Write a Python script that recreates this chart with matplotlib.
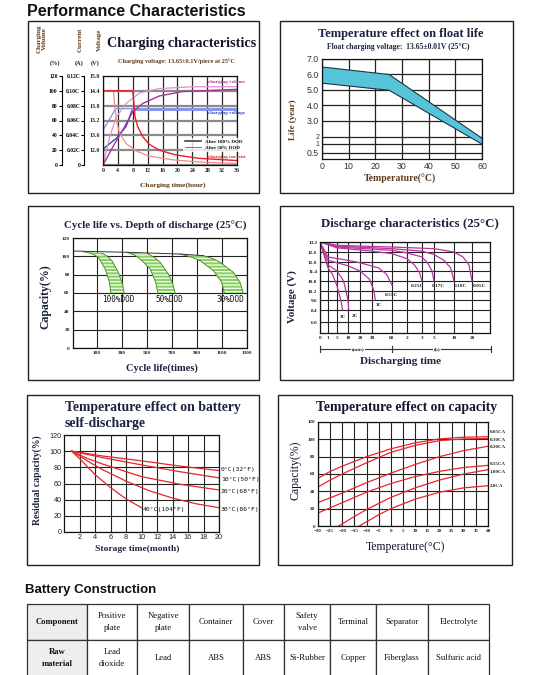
import numpy as np
import matplotlib
matplotlib.use('Agg')
import matplotlib.pyplot as plt
from matplotlib.patches import Rectangle
from matplotlib.lines import Line2D
from matplotlib.ticker import NullLocator

W, H = 540, 675
SERIF = 'Liberation Serif'
SANS = 'Liberation Sans'
MONO = 'DejaVu Sans Mono'
NAVY = '#1c1f3c'
BROWN = '#5e3a18'

# ---------------- data ----------------
# Charging characteristics
chg_hour_ticks = [0, 4, 8, 12, 16, 20, 24, 28, 32, 36]
pct_ticks = [0, 20, 40, 60, 80, 100, 120]
pct_labels = ['0', '20', '40', '60', '80', '100', '120']
current_labels = ['0', '0.02C', '0.04C', '0.06C', '0.08C', '0.10C', '0.12C']
voltage_labels = ['', '12.0', '13.6', '13.2', '13.8', '14.4', '15.0']
cur100_t = [0, 8, 8.3, 8.6, 9.3, 10.7, 12.4, 15.1, 19.6, 25.8, 36]
cur100_v = [100, 100, 83, 65, 52, 38, 28, 20, 13.5, 9, 6]
cur50_t = [0, 2.8, 3.1, 3.6, 4.4, 6.2, 8.9, 12.4, 18.7, 25.8, 36]
cur50_v = [100, 100, 83, 61, 43, 29, 19, 12, 7, 4, 2]
volt100_t = [0, 3.6, 6.2, 8, 36]
volt100_v = [21.6, 36, 52, 76, 76]
volt50_t = [0, 1.8, 3.4, 36]
volt50_v = [47, 62, 76, 76]
vol100_t = [0, 2.7, 5.3, 8, 10.7, 15.1, 21.3, 36]
vol100_v = [0, 25, 47, 72, 83, 93, 99, 102]
vol50_t = [0, 1.8, 3.6, 6.2, 9.8, 15, 24, 36]
vol50_v = [0, 38, 65, 83, 97, 103, 105.5, 105.6]

# Float life
life_temp = [0, 25, 60]
life_high = [6.5, 6.0, 1.8]
life_low = [5.45, 5.0, 1.0]
life_ticks = [0.5, 1, 2, 3, 4, 5, 6, 7]
life_tick_labels = ['0.5', '1', '2', '3.0', '4.0', '5.0', '6.0', '7.0']
float_temp_ticks = [0, 10, 20, 30, 40, 50, 60]

# Cycle life
cyc_ticks = [100, 300, 500, 700, 900, 1100, 1300]
cyc_cap_ticks = [0, 20, 40, 60, 80, 100, 120]
dod_names = ['100%DOD', '50%DOD', '30%DOD']
band_left_x = [[-7, 60, 113, 167, 201, 212],
               [340, 400, 447, 527, 572, 588],
               [767, 850, 927, 1033, 1100, 1120]]
band_left_y = [[105.1, 103, 98.9, 86.2, 71.6, 60],
               [104.4, 101.5, 97.1, 86.2, 71.6, 60],
               [102.5, 99.5, 95.3, 84.4, 71.6, 60]]
band_right_x = [[140, 185, 220, 273, 305, 319],
                [513, 565, 607, 673, 708, 727],
                [953, 1030, 1087, 1193, 1247, 1272]]
band_right_y = [[103.6, 100, 95.3, 82.5, 69.8, 60],
                [102.5, 98.5, 93.5, 80.7, 69.8, 60],
                [100.7, 97.5, 93.5, 82.5, 71.6, 60]]
cyc_top_x = [-95, 340, 767, 953]
cyc_top_y = [105.8, 104.4, 102.5, 100.7]

# Discharge characteristics
dis_time_vals = [0, 1, 5, 10, 20, 30, 60, 120, 180, 300, 600, 1200, 2400]
dis_time_labels = ['0', '1', '5', '10', '20', '30', '60', '2', '3', '5', '10', '20']
dis_volt_vals = [4.8, 6.0, 8.4, 9.6, 10.2, 10.8, 11.4, 12.0, 12.6, 13.2]
dis_volt_labels = ['6.0', '8.4', '9.6', '10.2', '10.8', '11.4', '12.0', '12.6', '13.2']
dis_rates = ['0.05C', '0.10C', '0.17C', '0.25C', '0.55C', '1C', '2C', '3C']
dis_t = [[0, 5, 60, 300, 600, 900, 1100, 1200],
         [0, 5, 60, 180, 300, 450, 550, 600],
         [0, 5, 60, 120, 180, 240, 280, 300],
         [0, 5, 30, 60, 120, 150, 170, 180],
         [0, 1, 10, 20, 40, 52, 60],
         [0, 1, 10, 20, 28, 33, 35],
         [0, 1, 5, 8, 10, 10.5],
         [0, 1, 3, 5, 7, 7.5]]
dis_v = [[13.2, 13.0, 12.9, 12.8, 12.6, 12.3, 11.8, 10.8],
         [13.2, 12.95, 12.8, 12.65, 12.45, 12.1, 11.6, 10.8],
         [13.2, 12.9, 12.7, 12.55, 12.3, 11.9, 11.4, 10.8],
         [13.2, 12.85, 12.65, 12.5, 12.2, 11.8, 11.3, 10.8],
         [13.2, 12.3, 12.1, 11.95, 11.6, 11.2, 10.55],
         [13.2, 12.1, 11.75, 11.4, 10.9, 10.2, 9.6],
         [13.2, 11.8, 11.4, 10.8, 9.6, 8.6],
         [13.2, 11.6, 11.2, 10.5, 9.3, 8.4]]

# Self-discharge
sd_month_ticks = [2, 4, 6, 8, 10, 12, 14, 16, 18, 20]
sd_cap_ticks = [0, 20, 40, 60, 80, 100, 120]
sd_names = ['0°C(32°F)', '10°C(50°F)', '20°C(68°F)', '30°C(86°F)', '40°C(104°F)']
sd_m = [[1, 5, 10, 15, 20],
        [1, 5, 10, 15, 20],
        [1, 3, 5, 10, 15, 20],
        [1, 3, 5, 8, 11, 14, 17, 20],
        [1, 2.5, 4, 6, 8, 10]]
sd_c = [[100, 94, 88, 81.5, 76],
        [100, 92, 83, 74.5, 67],
        [100, 91, 84, 68.5, 59, 52],
        [100, 88, 77, 63, 51, 42, 35, 30],
        [100, 86, 71, 55, 41, 30]]

# Temperature effect on capacity
tc_temp_ticks = [-30, -25, -20, -15, -10, -5, 0, 5, 10, 15, 20, 25, 30, 35, 40]
tc_cap_ticks = [0, 20, 40, 60, 80, 100, 120]
tc_names = ['0.05CA', '0.10CA', '0.20CA', '0.55CA', '1.00CA', '2.0CA']
tc_t = [[-30, -25, -20, -10, 0, 10, 20, 30, 40],
        [-30, -25, -20, -10, 0, 10, 20, 30, 40],
        [-30, -20, -10, 0, 10, 20, 30, 40],
        [-30, -20, -10, 0, 10, 20, 30, 40],
        [-21.5, -15, -10, 0, 10, 20, 30, 40],
        [-13, -5, 0, 10, 20, 30, 40]]
tc_c = [[55, 63, 69, 80, 89, 96, 100.5, 102.5, 103],
        [45, 53, 60, 73, 85, 93, 98.5, 100.5, 101],
        [27, 38, 50, 61, 71, 80, 87, 92],
        [15, 27, 39, 49, 57, 63, 67.5, 70],
        [0, 11, 19, 33, 44, 53, 60, 65],
        [0, 13, 20, 31, 39, 44, 46.5]]

# Battery construction table
table_header = ['Component', 'Positive\nplate', 'Negative\nplate', 'Container', 'Cover',
                'Safety\nvalve', 'Terminal', 'Separator', 'Electrolyte']
table_material = ['Raw\nmaterial', 'Lead\ndioxide', 'Lead', 'ABS', 'ABS', 'Si-Rubber',
                  'Copper', 'Fiberglass', 'Sulfuric acid']

# ---------------- helpers ----------------
fig = plt.figure(figsize=(W / 100, H / 100), dpi=100)
fig.patch.set_facecolor('white')


def px_axes(l, t, r, b):
    return fig.add_axes([l / W, 1 - b / H, (r - l) / W, (b - t) / H])


def ftext(x, y, s, **kw):
    kw.setdefault('ha', 'center')
    kw.setdefault('va', 'center')
    kw.setdefault('family', SERIF)
    return fig.text(x / W, 1 - y / H, s, **kw)


def frame(l, t, r, b):
    fig.add_artist(Rectangle((l / W, 1 - b / H), (r - l) / W, (b - t) / H,
                             transform=fig.transFigure, fill=False,
                             edgecolor='#222222', linewidth=1.0))


def hline_px(x1, x2, y, **kw):
    fig.add_artist(Line2D([x1 / W, x2 / W], [1 - y / H, 1 - y / H],
                          transform=fig.transFigure, **kw))


def vline_px(x, y1, y2, **kw):
    fig.add_artist(Line2D([x / W, x / W], [1 - y1 / H, 1 - y2 / H],
                          transform=fig.transFigure, **kw))


def piecewise(vals, pos):
    vals = np.asarray(vals, float)
    pos = np.asarray(pos, float)
    return (lambda v: np.interp(v, vals, pos)), (lambda p: np.interp(p, pos, vals))


def style_ticks(ax, size, family=SERIF, weight='bold', color='#222222', pad=1.5):
    ax.tick_params(length=0, labelsize=size, pad=pad, colors=color)
    for lab in ax.get_xticklabels() + ax.get_yticklabels():
        lab.set_family(family)
        lab.set_weight(weight)
    for s in ax.spines.values():
        s.set_linewidth(0.9)
        s.set_color('#111111')


# ---------------- headings ----------------
ftext(27, 11, 'Performance Characteristics', ha='left', family=SANS, weight='bold',
      fontsize=11.5, color='#111111')
ftext(25, 590, 'Battery Construction', ha='left', family=SANS, weight='bold',
      fontsize=9.5, color='#111111')

for box in [(28, 21, 259, 193), (280, 21, 513, 193), (28, 206, 259, 380),
            (280, 206, 513, 380), (27, 395, 259, 565), (278, 395, 512, 565)]:
    frame(*box)

# ---------------- Panel 1: charging ----------------
ax1 = px_axes(103, 76, 237, 165)
ax1.set_xlim(0, 36)
ax1.set_ylim(0, 120)
ax1.set_xticks(chg_hour_ticks)
ax1.set_yticks(pct_ticks, voltage_labels)
ax1.yaxis.grid(True, color='#8a8a8a', lw=1.6)
ax1.xaxis.grid(True, color='#2a2a2a', lw=0.9)
ax1.set_axisbelow(True)
ax1.plot(volt50_t, volt50_v, color='#7f8ee0', lw=0.9)
ax1.plot(volt100_t, volt100_v, color='#3346b8', lw=1.0)
ax1.plot(volt100_t[-2:], volt100_v[-2:], color='#8796e6', lw=2.2)
ax1.plot(vol50_t, vol50_v, color='#e090d0', lw=0.9)
ax1.plot(vol100_t, vol100_v, color='#a8329c', lw=1.0)
ax1.plot(cur50_t, cur50_v, color='#f48a8a', lw=0.9)
ax1.plot(cur100_t, cur100_v, color='#e8202a', lw=1.0)
leg_h = [Line2D([], [], color='#444444', lw=1.2), Line2D([], [], color='#444444', lw=0.5)]
leg = ax1.legend(leg_h, ['After 100% DOD', 'After 50% DOD'], loc='upper left',
                 bbox_to_anchor=(0.58, 0.33), frameon=True,
                 handlelength=3.2, borderpad=0.3, labelspacing=0.3, handletextpad=0.8,
                 prop={'family': SERIF, 'weight': 'bold', 'size': 3.6})
leg.get_frame().set_facecolor('white')
leg.get_frame().set_edgecolor('none')
style_ticks(ax1, 4.2, pad=2)

for xpos, labels in [(61.7, pct_labels), (84.3, current_labels)]:
    a = fig.add_axes([xpos / W, 1 - 165 / H, 0.0001, 89 / H])
    a.set_ylim(0, 120)
    a.set_yticks(pct_ticks, labels)
    a.set_xticks([])
    for s in ['top', 'right', 'bottom']:
        a.spines[s].set_visible(False)
    a.spines['left'].set_linewidth(0.8)
    a.patch.set_visible(False)
    a.tick_params(axis='y', length=2, width=0.8, labelsize=4, pad=1)
    for lab in a.get_yticklabels():
        lab.set_family(SERIF)
        lab.set_weight('bold')

ftext(42, 39, 'Charging\nVolume', rotation=90, fontsize=5, weight='bold', color=BROWN, linespacing=1.1)
ftext(80, 40, 'Current', rotation=90, fontsize=5, weight='bold', color=BROWN)
ftext(99.5, 40, 'Voltage', rotation=90, fontsize=5, weight='bold', color=BROWN)
ftext(55, 63, '(%)', fontsize=4.5, weight='bold', color='#222222')
ftext(79, 63, '(A)', fontsize=4.5, weight='bold', color='#222222')
ftext(95, 63, '(V)', fontsize=4.5, weight='bold', color='#222222')
ftext(182, 44, 'Charging characteristics', fontsize=10.2, weight='bold', color='#15152e')
ftext(176, 61, 'Charging voltage: 13.65±0.1V/piece at 25°C', fontsize=4.5, weight='bold', color=BROWN)
ftext(173, 185, 'Charging time(hour)', fontsize=5.3, weight='bold', color=BROWN)
ftext(208, 82.5, 'charging volume', ha='left', fontsize=3.7, weight='bold', color='#b03aa0')
ftext(208, 113, 'charging voltage', ha='left', fontsize=3.7, weight='bold', color='#3346b8')
ftext(208, 157, 'charging current', ha='left', fontsize=3.7, weight='bold', color='#e8202a')

# ---------------- Panel 2: float life ----------------
ax2 = px_axes(322, 59, 482, 159)
f2, i2 = piecewise([0, 0.5, 1, 2, 3, 4, 5, 6, 7], [0, 6.3, 15, 22.3, 38.3, 53.7, 69, 84.7, 99.7])
ax2.set_yscale('function', functions=(f2, i2))
ax2.set_xlim(0, 60)
ax2.set_ylim(0, 7)
ax2.set_yticks(life_ticks, life_tick_labels)
ax2.set_xticks(float_temp_ticks)
ax2.yaxis.set_minor_locator(NullLocator())
ax2.grid(True, color='#222222', lw=0.9)
ax2.set_axisbelow(True)
ax2.fill_between(life_temp, life_low, life_high, facecolor='#58c4d9', edgecolor='#1d3644', lw=0.8)
style_ticks(ax2, 6.3, family=SANS, weight='normal', color='#333333', pad=2)
for lab, val in zip(ax2.get_yticklabels(), life_ticks):
    if val in (1, 2):
        lab.set_fontsize(5.0)
ftext(401, 34, 'Temperature effect on float life', fontsize=9.0, weight='bold', color='#1c2340')
ftext(398, 47, 'Float charging voltage:  13.65±0.01V (25°C)', fontsize=5.5, weight='bold', color='#1c2340')
ftext(400, 178.5, 'Temperature(°C)', fontsize=7, weight='bold', color=BROWN)
ftext(293, 120, 'Life (year)', rotation=90, fontsize=6.5, weight='bold', color=BROWN)

# ---------------- Panel 3: cycle life ----------------
ax3 = px_axes(72.5, 238, 246.7, 348)
ax3.set_xlim(-95, 1300)
ax3.set_ylim(0, 120)
ax3.set_xticks(cyc_ticks)
ax3.set_yticks(cyc_cap_ticks)
ax3.grid(True, color='#222222', lw=0.8)
ax3.set_axisbelow(True)
for lx, ly, rx, ry in zip(band_left_x, band_left_y, band_right_x, band_right_y):
    px = list(lx) + list(rx[::-1])
    py = list(ly) + list(ry[::-1])
    ax3.fill(px, py, facecolor='#86cf62', edgecolor='#f2fbe8', hatch='-----', lw=0)
    ax3.plot(lx, ly, color='#4f8f30', lw=0.7)
    ax3.plot(rx, ry, color='#4f8f30', lw=0.7)
ax3.plot(cyc_top_x, cyc_top_y, color='#333333', lw=0.7)
style_ticks(ax3, 3.8, pad=2)
ftext(155, 225.5, 'Cycle life vs. Depth of discharge (25°C)', fontsize=7.8, weight='bold', color='#1c2340')
ftext(162, 368, 'Cycle life(times)', fontsize=7.5, weight='bold', color='#1c2340')
ftext(45, 297, 'Capacity(%)', rotation=90, fontsize=8.5, weight='bold', color='#1c2340')
for name, xc in zip(dod_names, [118, 169, 230]):
    ftext(xc, 300, name, fontsize=5.5, family=MONO, color='#111111')

# ---------------- Panel 4: discharge ----------------
ax4 = px_axes(320, 242, 490, 333)
fx4, ix4 = piecewise(dis_time_vals, [0, 8, 17, 28, 40, 52, 72, 87, 102, 114, 134, 152, 170])
fy4, iy4 = piecewise(dis_volt_vals, [0, 11, 23, 33, 42, 52, 62, 71, 81, 91])
ax4.set_xscale('function', functions=(fx4, ix4))
ax4.set_yscale('function', functions=(fy4, iy4))
ax4.set_xlim(0, 2400)
ax4.set_ylim(4.8, 13.2)
ax4.set_xticks(dis_time_vals[:-1], dis_time_labels)
ax4.set_yticks(dis_volt_vals[1:], dis_volt_labels)
ax4.xaxis.set_minor_locator(NullLocator())
ax4.yaxis.set_minor_locator(NullLocator())
ax4.grid(True, color='#222222', lw=0.8)
ax4.set_axisbelow(True)
for t, v in zip(dis_t, dis_v):
    ax4.plot(t, v, color='#b8359e', lw=0.9)
style_ticks(ax4, 3.8, pad=2)
for name, (x, y) in zip(dis_rates, [(479, 286), (460, 286), (438, 286), (417.5, 286),
                                    (391, 295), (379, 305), (355, 316), (343, 317)]):
    ftext(x, y, name, fontsize=3.8, weight='bold', color='#222222')
hline_px(320, 391.5, 349, color='#333333', lw=0.8)
hline_px(392.5, 490.5, 349, color='#333333', lw=0.8)
for xv in [320, 392, 490.5]:
    vline_px(xv, 346, 352, color='#333333', lw=0.8)
ftext(358, 349, '(min)', fontsize=3.8, weight='bold', color='#222222',
      bbox=dict(facecolor='white', edgecolor='none', pad=0.6))
ftext(437, 349, '(h)', fontsize=3.8, weight='bold', color='#222222',
      bbox=dict(facecolor='white', edgecolor='none', pad=0.6))
ftext(410, 224.5, 'Discharge characteristics (25°C)', fontsize=9.3, weight='bold', color='#1c2340')
ftext(400, 362, 'Discharging time', fontsize=8, weight='bold', color='#1c2340')
ftext(292, 297, 'Voltage (V)', rotation=90, fontsize=7.8, weight='bold', color='#1c2340')

# ---------------- Panel 5: self-discharge ----------------
ax5 = px_axes(64, 435, 219, 532)
ax5.set_xlim(0, 20)
ax5.set_ylim(0, 120)
ax5.set_xticks(sd_month_ticks)
ax5.set_yticks(sd_cap_ticks)
ax5.grid(True, color='#222222', lw=0.8)
ax5.set_axisbelow(True)
for m, c in zip(sd_m, sd_c):
    ax5.plot(m, c, color='#e3262d', lw=0.9)
style_ticks(ax5, 5.2, family=SANS, weight='normal', color='#222222', pad=1.5)
for name, (x, y) in zip(sd_names, [(221, 470), (221, 479), (221, 491), (221, 509), (143, 509)]):
    ftext(x, y, name, ha='left', fontsize=4.6, family=MONO, color='#111111')
ftext(65, 407, 'Temperature effect on battery', ha='left', fontsize=9.9, weight='bold', color='#1c2340')
ftext(65, 423, 'self-discharge', ha='left', fontsize=9.9, weight='bold', color='#1c2340')
ftext(137, 549, 'Storage time(month)', fontsize=6.8, weight='bold', color='#1c2340')
ftext(37, 480, 'Residual capacity(%)', rotation=90, fontsize=7, weight='bold', color='#1c2340')

# ---------------- Panel 6: temperature vs capacity ----------------
ax6 = px_axes(318, 422, 488, 526)
ax6.set_xlim(-30, 40)
ax6.set_ylim(0, 120)
ax6.set_xticks(tc_temp_ticks)
ax6.set_yticks(tc_cap_ticks)
ax6.grid(True, color='#222222', lw=0.8)
ax6.set_axisbelow(True)
for t, c in zip(tc_t, tc_c):
    ax6.plot(t, c, color='#e8262d', lw=0.9)
style_ticks(ax6, 3.6, pad=2)
for name, y in zip(tc_names, [432, 440, 447, 464, 472, 486]):
    ftext(490, y, name, ha='left', fontsize=3.6, weight='bold', color='#222222')
ftext(407, 407, 'Temperature effect on capacity', fontsize=9.8, weight='bold', color='#15152e')
ftext(405, 547, 'Temperature(°C)', fontsize=8.5, color='#15152e')
ftext(295, 470, 'Capacity(%)', rotation=90, fontsize=8.5, color='#15152e')

# ---------------- Table ----------------
tax = px_axes(27, 604, 489, 676)
tax.axis('off')
col_edges = np.array([27, 87, 137, 189, 243, 284, 330, 376, 428, 489], float)
col_w = list(np.diff(col_edges) / (col_edges[-1] - col_edges[0]))
tbl = tax.table(cellText=[table_header, table_material], colWidths=col_w,
                cellLoc='center', bbox=[0, 0, 1, 1])
tbl.auto_set_font_size(False)
for (r, c), cell in tbl.get_celld().items():
    cell.set_edgecolor('#333333')
    cell.set_linewidth(0.9)
    txt = cell.get_text()
    txt.set_fontsize(6.2)
    txt.set_family(SERIF)
    txt.set_linespacing(1.8)
    txt.set_color('#111111')
    if c == 0:
        cell.set_facecolor('#eeeeee')
        txt.set_weight('bold')

fig.savefig('out.png', dpi=100)
